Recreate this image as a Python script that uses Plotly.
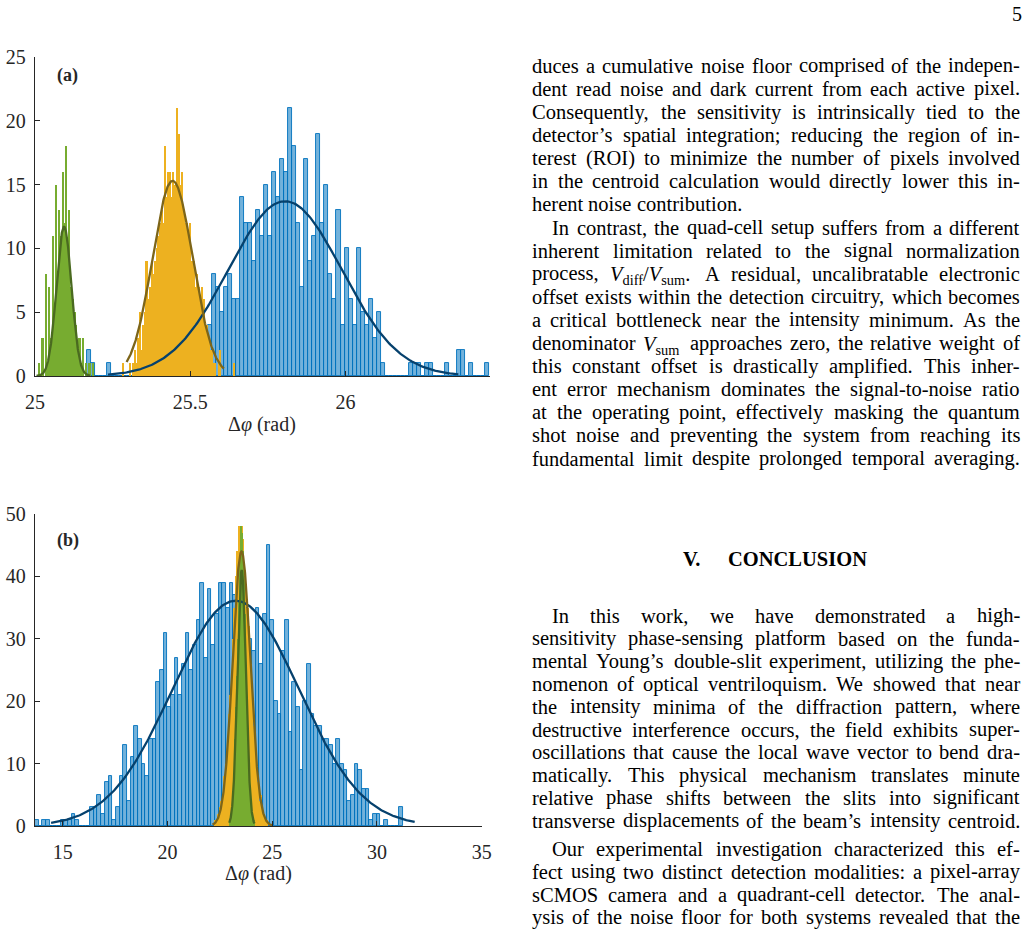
import re
import numpy as np
import plotly.graph_objects as go

W_PX, H_PX = 1029, 929

# ---------------- Panel (a) data ----------------
a_blue_start = 25.1672
a_blue_width = 0.01296
a_blue_counts = [
    2, 1, 0, 0, 0, 1, 0, 0, 0, 0,
    0, 0, 0, 0, 0, 0, 0, 0, 0, 0,
    0, 0, 0, 0, 0, 0, 0, 0, 1, 2,
    4, 8, 7, 5, 7, 8, 6, 6, 14, 12,
    12, 9, 13, 11, 15, 11, 16, 14, 17, 16,
    21, 18, 12, 7, 17, 9, 11, 19, 12, 15,
    8, 6, 13, 4, 10, 6, 4, 10, 5, 4,
    6, 3, 5, 1, 0, 0, 0, 0, 0, 0,
    1, 1, 1, 0, 1, 1, 0, 0, 0, 1,
    0, 0, 2, 2, 0, 1, 0, 0, 0, 1,
]
a_yellow_start = 25.2817
a_yellow_width = 0.0054
a_yellow_counts = [
    1, 0, 0, 0, 1, 0, 1, 2, 1, 3,
    5, 2, 4, 5, 9, 6, 7, 9, 8, 9,
    10, 11, 12, 13, 12, 18, 14, 16, 16, 14,
    16, 15, 21, 19, 15, 16, 13, 12, 12, 11,
    12, 9, 9, 7, 8, 7, 6, 7, 6, 4,
    4, 3, 2, 2, 1, 1, 0, 1, 2, 0,
    0, 0, 0, 0, 0, 0, 1,
]
a_green_start = 25.0116
a_green_width = 0.0054
a_green_counts = [
    1, 0, 3, 0, 8, 1, 7, 3, 11, 5,
    15, 8, 13, 11, 16, 12, 18, 10, 13, 7,
    6, 5, 4, 2, 3, 1, 3, 0, 1, 0,
    1, 0, 1,
]
# Gaussian fits: [amplitude, mean, sigma, x_from, x_to]
a_blue_fit = [13.7, 25.805, 0.183, 25.235, 26.363]
a_yellow_fit = [15.3, 25.443, 0.0645, 25.295, 25.608]
a_green_fit = [11.7, 25.0935, 0.024, 25.005, 25.177]

# ---------------- Panel (b) data ----------------
b_blue_start = 13.671
b_blue_width = 0.17548
b_blue_counts = [
    1, 0, 1, 1, 0, 0, 0, 1, 1, 1,
    2, 1, 0, 0, 0, 3, 3, 5, 2, 7,
    8, 1, 3, 8, 13, 4, 11, 16, 14, 10,
    8, 14, 14, 23, 25, 31, 19, 21, 27, 21,
    26, 31, 25, 29, 33, 39, 27, 38, 29, 34,
    39, 39, 35, 39, 37, 35, 28, 35, 30, 28,
    35, 26, 34, 45, 33, 20, 18, 28, 33, 15,
    23, 19, 9, 20, 26, 18, 16, 16, 14, 14,
    13, 10, 14, 10, 9, 4, 5, 10, 9, 6,
    6, 1, 2, 2, 0, 1, 0, 0, 0, 3,
]
b_yellow_start = 22.19
b_yellow_width = 0.07
b_yellow_counts = [
    0, 1, 1, 2, 3, 4, 5, 8, 10, 12,
    18, 21, 24, 30, 35, 40, 44, 48, 47, 48,
    46, 41, 35, 35, 32, 26, 20, 16, 14, 9,
    7, 4, 5, 3, 2, 1, 1,
]
b_green_start = 22.94
b_green_width = 0.04
b_green_counts = [
    1, 1, 2, 3, 5, 7, 10, 14, 19, 24,
    30, 36, 42, 47, 48, 47, 44, 40, 34, 28,
    22, 17, 12, 9, 6, 4, 3, 2, 1, 1,
]
b_blue_fit = [36.1, 23.25, 3.02, 14.44, 31.8]
b_yellow_fit = [44.0, 23.53, 0.42, 22.15, 25.0]
b_green_fit = [41.0, 23.54, 0.20, 22.95, 24.15]

# ---------------- styles ----------------
BLUE_FACE = "rgba(0,114,189,0.55)"
BLUE_EDGE = "rgb(0,114,189)"
YELLOW = "rgb(237,177,32)"
GREEN = "rgb(119,172,48)"
BLUE_FIT = "#06416d"
YELLOW_FIT = "#7d6519"
GREEN_FIT = "#4a6a20"
AXC = "#262626"
SERIF = "Liberation Serif"


def centers(start, width, counts):
    return start + width * (np.arange(len(counts)) + 0.5)


def gauss(p):
    A, mu, sig, x0, x1 = p
    xs = np.linspace(x0, x1, 300)
    return xs, A * np.exp(-(xs - mu) ** 2 / (2 * sig ** 2))


fig = go.Figure()


def add_hist(start, width, counts, face, edge, lw, xa, ya):
    fig.add_trace(go.Bar(
        x=centers(start, width, counts), y=counts, width=width,
        marker=dict(color=face, line=dict(color=edge, width=lw)),
        xaxis=xa, yaxis=ya, showlegend=False, hoverinfo="skip"))


def add_fit(p, color, xa, ya):
    xs, ys = gauss(p)
    fig.add_trace(go.Scatter(x=xs, y=ys, mode="lines",
                             line=dict(color=color, width=2.3),
                             xaxis=xa, yaxis=ya, showlegend=False, hoverinfo="skip"))


# panel (a)
add_hist(a_blue_start, a_blue_width, a_blue_counts, BLUE_FACE, BLUE_EDGE, 0.9, "x", "y")
add_fit(a_blue_fit, BLUE_FIT, "x", "y")
add_hist(a_yellow_start, a_yellow_width, a_yellow_counts, YELLOW, YELLOW, 0, "x", "y")
add_fit(a_yellow_fit, YELLOW_FIT, "x", "y")
add_hist(a_green_start, a_green_width, a_green_counts, GREEN, GREEN, 0, "x", "y")
add_fit(a_green_fit, GREEN_FIT, "x", "y")
# panel (b)
add_hist(b_blue_start, b_blue_width, b_blue_counts, BLUE_FACE, BLUE_EDGE, 0.9, "x2", "y2")
add_fit(b_blue_fit, BLUE_FIT, "x2", "y2")
add_hist(b_yellow_start, b_yellow_width, b_yellow_counts, YELLOW, YELLOW, 0, "x2", "y2")
add_fit(b_yellow_fit, YELLOW_FIT, "x2", "y2")
add_hist(b_green_start, b_green_width, b_green_counts, GREEN, GREEN, 0, "x2", "y2")
add_fit(b_green_fit, GREEN_FIT, "x2", "y2")


def px_x(v):
    return v / W_PX


def px_y(v):
    return 1 - v / H_PX


axis_common = dict(showline=True, linecolor=AXC, linewidth=1.3, mirror=False,
                   ticks="inside", ticklen=5, tickwidth=1.2, tickcolor=AXC,
                   showgrid=False, zeroline=False, automargin=False,
                   tickfont=dict(family=SERIF, size=20, color=AXC))

fig.update_layout(
    width=W_PX, height=H_PX,
    margin=dict(l=0, r=0, t=0, b=0, pad=0, autoexpand=False),
    paper_bgcolor="white", plot_bgcolor="white",
    barmode="overlay", bargap=0,
    xaxis=dict(domain=[px_x(35), px_x(490)], range=[25, 26.465],
               tickvals=[25, 25.5, 26], ticktext=["25", "25.5", "26"],
               anchor="y", ticklabelstandoff=8, **axis_common),
    yaxis=dict(domain=[px_y(376), px_y(57)], range=[0, 25],
               tickvals=[0, 5, 10, 15, 20, 25], anchor="x",
               ticklabelstandoff=4, **axis_common),
    xaxis2=dict(domain=[px_x(35), px_x(481.7)], range=[13.671, 35],
                tickvals=[15, 20, 25, 30, 35], anchor="y2",
                ticklabelstandoff=8, **axis_common),
    yaxis2=dict(domain=[px_y(826), px_y(514)], range=[0, 50],
                tickvals=[0, 10, 20, 30, 40, 50], anchor="x2",
                ticklabelstandoff=4, **axis_common),
)

ann = []


def add_text(x, y, text, size, xanchor="left", yanchor="middle", color="#000000"):
    ann.append(dict(x=px_x(x), y=px_y(y), xref="paper", yref="paper",
                    xanchor=xanchor, yanchor=yanchor, text=text, showarrow=False,
                    borderpad=0, borderwidth=0,
                    font=dict(family=SERIF, size=size, color=color)))


# panel labels and axis titles
add_text(57, 75, "<b>(a)</b>", 18, color=AXC)
add_text(57, 540, "<b>(b)</b>", 18, color=AXC)
add_text(262, 424, "Δ<i>φ</i> (rad)", 20, xanchor="center", color=AXC)
add_text(258, 873, "Δ<i>φ</i>\u2009(rad)", 20, xanchor="center", color=AXC)
add_text(1017, 14, "5", 20, xanchor="center")

# ---------------- body text (justified word by word) ----------------
TIMES = {' ': 250, 'a': 444, 'b': 500, 'c': 444, 'd': 500, 'e': 444, 'f': 333, 'g': 500,
         'h': 500, 'i': 278, 'j': 278, 'k': 500, 'l': 278, 'm': 778, 'n': 500, 'o': 500,
         'p': 500, 'q': 500, 'r': 333, 's': 389, 't': 278, 'u': 500, 'v': 500, 'w': 722,
         'x': 500, 'y': 500, 'z': 444,
         'A': 722, 'B': 667, 'C': 667, 'D': 722, 'E': 611, 'F': 556, 'G': 722, 'H': 722,
         'I': 333, 'J': 389, 'K': 722, 'L': 611, 'M': 889, 'N': 722, 'O': 722, 'P': 556,
         'Q': 722, 'R': 667, 'S': 556, 'T': 611, 'U': 722, 'V': 722, 'W': 944, 'X': 722,
         'Y': 722, 'Z': 611, ',': 250, '.': 250, ';': 278, ':': 278, '(': 333, ')': 333,
         '-': 333, '’': 333, '/': 278}
FS = 20.5
LEFT, RIGHT, INDENT = 532.0, 1020.0, 20.0


def text_px(s, fs=FS):
    total, scale = 0.0, 1.0
    for tok in re.split(r"(<[^>]+>)", s):
        if tok.startswith("<"):
            t = tok.lower()
            if t == "<sub>":
                scale = 0.7
            elif t == "</sub>":
                scale = 1.0
            continue
        for ch in tok:
            total += TIMES.get(ch, 500) * scale
    return total / 1000.0 * fs


VD = "<i>V</i><sub>diff</sub>/<i>V</i><sub>sum</sub>."
VS = "<i>V</i><sub>sum</sub>"

upper_lines = [
    ("duces a cumulative noise floor comprised of the indepen-", 0, True),
    ("dent read noise and dark current from each active pixel.", 0, True),
    ("Consequently, the sensitivity is intrinsically tied to the", 0, True),
    ("detector’s spatial integration; reducing the region of in-", 0, True),
    ("terest (ROI) to minimize the number of pixels involved", 0, True),
    ("in the centroid calculation would directly lower this in-", 0, True),
    ("herent noise contribution.", 0, False),
    ("In contrast, the quad-cell setup suffers from a different", 1, True),
    ("inherent limitation related to the signal normalization", 0, True),
    ("process, " + VD + " A residual, uncalibratable electronic", 0, True),
    ("offset exists within the detection circuitry, which becomes", 0, True),
    ("a critical bottleneck near the intensity minimum. As the", 0, True),
    ("denominator " + VS + " approaches zero, the relative weight of", 0, True),
    ("this constant offset is drastically amplified. This inher-", 0, True),
    ("ent error mechanism dominates the signal-to-noise ratio", 0, True),
    ("at the operating point, effectively masking the quantum", 0, True),
    ("shot noise and preventing the system from reaching its", 0, True),
    ("fundamental limit despite prolonged temporal averaging.", 0, True),
]
lower_lines = [
    ("In this work, we have demonstrated a high-", 1, True),
    ("sensitivity phase-sensing platform based on the funda-", 0, True),
    ("mental Young’s double-slit experiment, utilizing the phe-", 0, True),
    ("nomenon of optical ventriloquism. We showed that near", 0, True),
    ("the intensity minima of the diffraction pattern, where", 0, True),
    ("destructive interference occurs, the field exhibits super-", 0, True),
    ("oscillations that cause the local wave vector to bend dra-", 0, True),
    ("matically. This physical mechanism translates minute", 0, True),
    ("relative phase shifts between the slits into significant", 0, True),
    ("transverse displacements of the beam’s intensity centroid.", 0, True),
]
last_lines = [
    ("Our experimental investigation characterized this ef-", 1, True),
    ("fect using two distinct detection modalities: a pixel-array", 0, True),
    ("sCMOS camera and a quadrant-cell detector. The anal-", 0, True),
    ("ysis of the noise floor for both systems revealed that the", 0, True),
]


def set_line(text, y, indent, justify):
    words = text.split(" ")
    widths = [text_px(w) for w in words]
    x0 = LEFT + (INDENT if indent else 0.0)
    if justify and len(words) > 1:
        gap = (RIGHT - x0 - sum(widths)) / (len(words) - 1)
        gap = max(gap, 0.15 * FS)
    else:
        gap = 0.25 * FS
    x = x0
    for w, wd in zip(words, widths):
        dy = 2.0 if "<sub>" in w else 0.0
        add_text(x, y + dy, w, FS)
        x += wd + gap


for i, (t, ind, j) in enumerate(upper_lines):
    set_line(t, 65.8 + 23.1 * i, ind, j)
for i, (t, ind, j) in enumerate(lower_lines):
    set_line(t, 615.8 + 22.75 * i, ind, j)
for i, (t, ind, j) in enumerate(last_lines):
    set_line(t, 849.2 + 22.75 * i, ind, j)

add_text(683, 559, "<b>V.</b>", 20.5)
add_text(728, 559, "<b>CONCLUSION</b>", 20.5)

fig.update_layout(annotations=ann)
fig.write_html(
    "out.html",
    post_script="document.body.style.margin='0';document.body.style.overflow='hidden';",
)
